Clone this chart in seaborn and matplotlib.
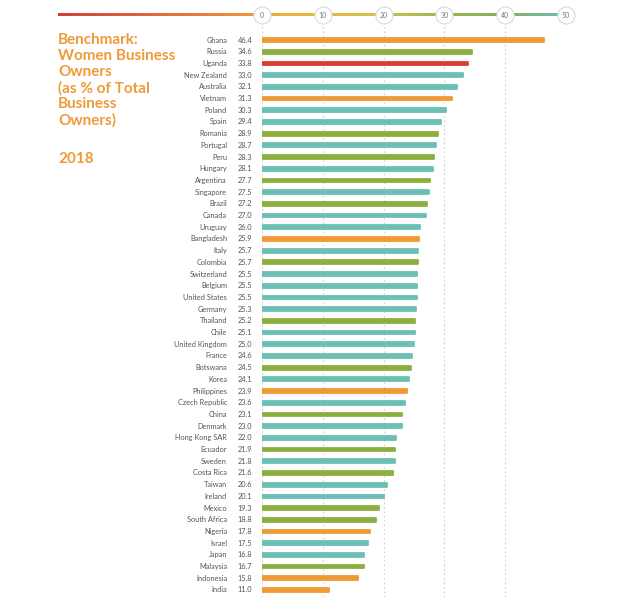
import numpy as np
import pandas as pd
import matplotlib
matplotlib.use("Agg")
import matplotlib.pyplot as plt
from matplotlib.colors import LinearSegmentedColormap
import seaborn as sns

# data
countries = ["Ghana", "Russia", "Uganda", "New Zealand", "Australia", "Vietnam", "Poland", "Spain",
             "Romania", "Portugal", "Peru", "Hungary", "Argentina", "Singapore", "Brazil", "Canada",
             "Uruguay", "Bangladesh", "Italy", "Colombia", "Switzerland", "Belgium", "United States",
             "Germany", "Thailand", "Chile", "United Kingdom", "France", "Botswana", "Korea",
             "Philippines", "Czech Republic", "China", "Denmark", "Hong Kong SAR", "Ecuador", "Sweden",
             "Costa Rica", "Taiwan", "Ireland", "Mexico", "South Africa", "Nigeria", "Israel", "Japan",
             "Malaysia", "Indonesia", "India"]
values = [46.4, 34.6, 33.8, 33.0, 32.1, 31.3, 30.3, 29.4, 28.9, 28.7, 28.3, 28.1, 27.7, 27.5, 27.2,
          27.0, 26.0, 25.9, 25.7, 25.7, 25.5, 25.5, 25.5, 25.3, 25.2, 25.1, 25.0, 24.6, 24.5, 24.1,
          23.9, 23.6, 23.1, 23.0, 22.0, 21.9, 21.8, 21.6, 20.6, 20.1, 19.3, 18.8, 17.8, 17.5, 16.8,
          16.7, 15.8, 11.0]
groups = ["O", "G", "R", "T", "T", "O", "T", "T", "G", "T", "G", "T", "G", "T", "G", "T",
          "T", "O", "T", "G", "T", "T", "T", "T", "G", "T", "T", "T", "G", "T",
          "O", "T", "G", "T", "T", "G", "T", "G", "T", "T", "G", "G", "O", "T", "T",
          "G", "O", "O"]
ticks = [0, 10, 20, 30, 40, 50]

palette = {"O": "#F09A36", "G": "#8DAF3F", "R": "#DA3D34", "T": "#6CBFB5"}
df = pd.DataFrame({"country": countries, "value": values, "group": groups})

sns.set_theme(style="white")
plt.rcParams["font.family"] = ["Lato", "DejaVu Sans"]

fig = plt.figure(figsize=(6.4, 5.97), dpi=100)
W, H = 640, 597

# main bar axes
ax = fig.add_axes([262 / W, 0, 304 / W, 1 - 26 / H])
sns.barplot(data=df, x="value", y="country", hue="group", palette=palette, dodge=False,
            legend=False, orient="h", width=0.32, saturation=1, ax=ax)
for p in ax.patches:
    p.set_edgecolor(p.get_facecolor())
    p.set_linewidth(1.3)
    p.set_joinstyle("round")
ax.set_xlim(0, 50)
ax.set_ylim(47.6, -1.2)
ax.set_xticks(ticks)
ax.set_yticks([])
ax.set_xlabel("")
ax.set_ylabel("")
ax.tick_params(axis="x", bottom=False, labelbottom=False)
ax.grid(axis="x", linestyle=(0, (1.5, 2.5)), color="#cfcfcf", linewidth=0.8)
ax.set_axisbelow(True)
for s in ax.spines.values():
    s.set_visible(False)

for i, (c, v) in enumerate(zip(countries, values)):
    ax.text(-0.115, i, c, transform=ax.get_yaxis_transform(), ha="right", va="center",
            fontsize=5.3, color="#555555")
    ax.text(-0.08, i, f"{v:.1f}", transform=ax.get_yaxis_transform(), ha="left", va="center",
            fontsize=5.3, color="#555555")

# header with gradient line and tick circles
hx = fig.add_axes([58 / W, 1 - 25 / H, (566 - 58) / W, 20 / H])
x0 = -33.55
hx.set_xlim(x0, 50)
hx.set_ylim(0, 1)
hx.axis("off")
cmap = LinearSegmentedColormap.from_list(
    "hdr", [(0, "#D33F3F"), (0.35, "#EC8E3C"), (0.45, "#EBB43F"), (0.62, "#D4C24A"),
            (0.78, "#97B64E"), (0.88, "#86B061"), (1, "#6FBDB0")])
hx.imshow(np.linspace(0, 1, 512).reshape(1, -1), cmap=cmap, aspect="auto",
          extent=(x0, 50, 0.44, 0.56), interpolation="bilinear")
hx.set_xlim(x0, 50)
hx.set_ylim(0, 1)
hx.scatter(ticks, [0.5] * len(ticks), s=150, facecolor="white", edgecolor="#dddddd",
           linewidth=0.9, zorder=3, clip_on=False)
for t in ticks:
    hx.text(t, 0.5, str(t), ha="center", va="center", fontsize=5, color="#777777", zorder=4)

# title block
fig.text(58 / W, 1 - 33 / H,
         "Benchmark:\nWomen Business\nOwners\n(as % of Total\nBusiness\nOwners)",
         ha="left", va="top", fontsize=11, fontweight="bold", color="#EE9B38", linespacing=1.18)
fig.text(58 / W, 1 - 152 / H, "2018", ha="left", va="top", fontsize=11, fontweight="bold",
         color="#EE9B38")

fig.savefig("out.png", dpi=100, facecolor="white")
